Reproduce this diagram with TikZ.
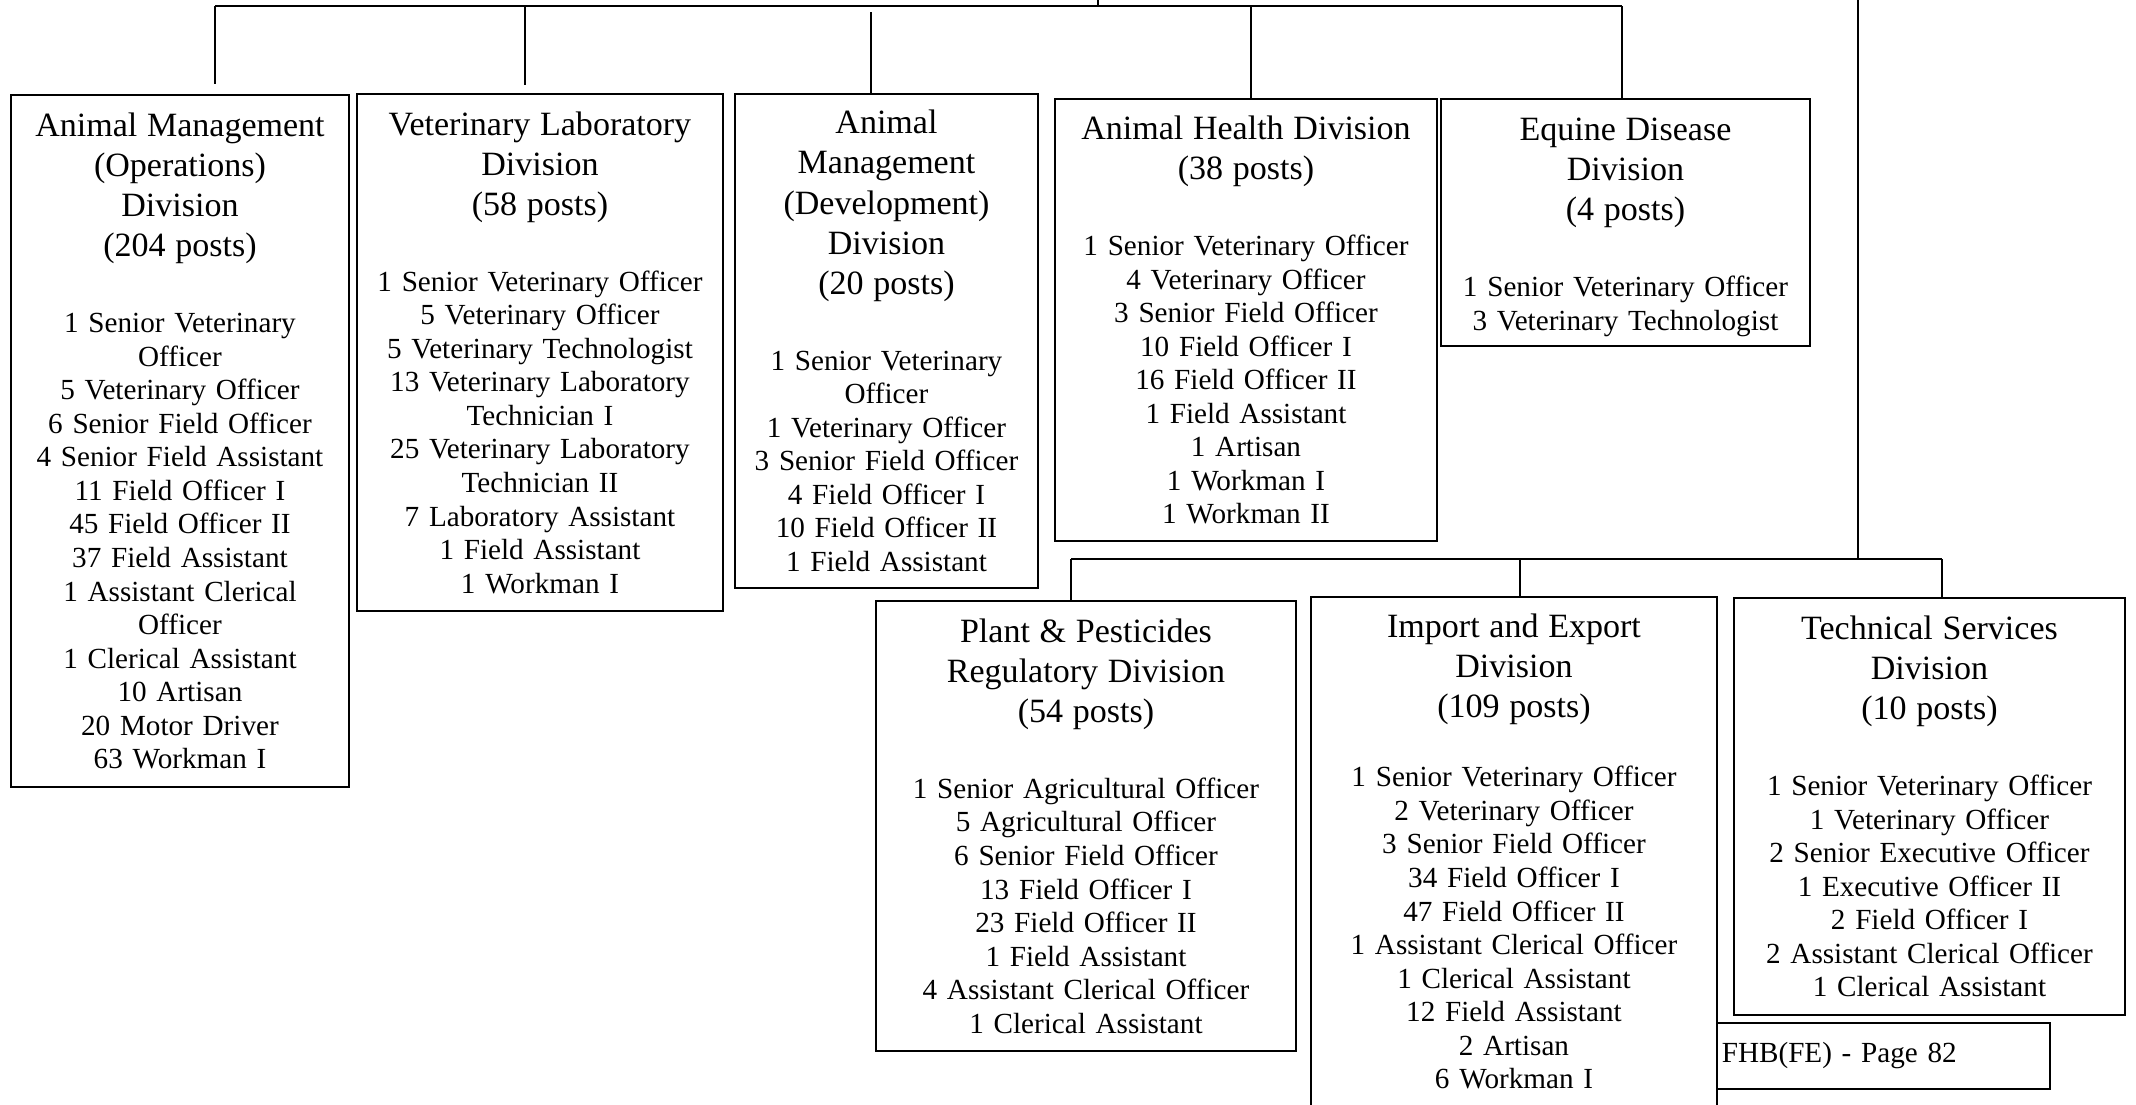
\documentclass[tikz,border=0pt]{standalone}
\usepackage{fontspec}
\setmainfont{Liberation Serif}
\usepackage{tikz}
\newcommand{\divhead}[2][17.5pt]{{\fontsize{14}{16.5}\selectfont #2\par}\vspace{#1}}

\begin{document}
\begin{tikzpicture}[
    x=0.4115pt, y=-0.4115pt,
    divbox/.style 2 args={draw, line width=0.8pt, anchor=north west, align=center,
      inner xsep=2pt, inner ysep=0pt,
      minimum width=#1*0.4115pt, text width=#1*0.4115pt-4pt,
      minimum height=#2*0.4115pt, font=\fontsize{12}{13.8}\selectfont},
    link/.style={line width=0.75pt}
  ]
    \useasboundingbox (0,0) rectangle (2136,1104);
    \node[divbox={338}{692}] (amo) at (10,94) {\divhead{Animal Management\\(Operations)\\Division\\(204 posts)}
      1 Senior Veterinary\\Officer\\5 Veterinary Officer\\6 Senior Field Officer\\4 Senior Field Assistant\\
      11 Field Officer I\\45 Field Officer II\\37 Field Assistant\\1 Assistant Clerical\\Officer\\
      1 Clerical Assistant\\10 Artisan\\20 Motor Driver\\63 Workman I};
    \node[divbox={366}{517}] (vld) at (356,93) {\divhead{Veterinary Laboratory\\Division\\(58 posts)}
      1 Senior Veterinary Officer\\5 Veterinary Officer\\5 Veterinary Technologist\\
      13 Veterinary Laboratory\\Technician I\\25 Veterinary Laboratory\\Technician II\\
      7 Laboratory Assistant\\1 Field Assistant\\1 Workman I};
    \node[divbox={303}{494}] (amd) at (734,93) {\divhead{Animal\\Management\\(Development)\\Division\\(20 posts)}
      1 Senior Veterinary\\Officer\\1 Veterinary Officer\\3 Senior Field Officer\\
      4 Field Officer I\\10 Field Officer II\\1 Field Assistant};
    \node[divbox={382}{442}] (ahd) at (1054,98) {\divhead{Animal Health Division\\(38 posts)}
      1 Senior Veterinary Officer\\4 Veterinary Officer\\3 Senior Field Officer\\
      10 Field Officer I\\16 Field Officer II\\1 Field Assistant\\1 Artisan\\1 Workman I\\1 Workman II};
    \node[divbox={369}{247}] (edd) at (1440,98) {\divhead{\rule{0pt}{13.3pt}Equine Disease\\Division\\(4 posts)}
      1 Senior Veterinary Officer\\3 Veterinary Technologist};
    \node[divbox={420}{450}] (ppr) at (875,600) {\divhead{Plant \& Pesticides\\Regulatory Division\\(54 posts)}
      1 Senior Agricultural Officer\\5 Agricultural Officer\\6 Senior Field Officer\\
      13 Field Officer I\\23 Field Officer II\\1 Field Assistant\\4 Assistant Clerical Officer\\
      1 Clerical Assistant};
    \node[divbox={406}{509}] (ied) at (1310,596) {\divhead[14.7pt]{Import and Export\\Division\\(109 posts)}
      1 Senior Veterinary Officer\\2 Veterinary Officer\\3 Senior Field Officer\\
      34 Field Officer I\\47 Field Officer II\\1 Assistant Clerical Officer\\1 Clerical Assistant\\
      12 Field Assistant\\2 Artisan\\6 Workman I};
    \node[divbox={391}{417}] (tsd) at (1733,597) {\divhead{Technical Services\\Division\\(10 posts)}
      1 Senior Veterinary Officer\\1 Veterinary Officer\\2 Senior Executive Officer\\
      1 Executive Officer II\\2 Field Officer I\\2 Assistant Clerical Officer\\1 Clerical Assistant};
    \node[divbox={332}{64}, draw=none, align=left] (foot) at (1716,1023) {FHB(FE) - Page 82};
    \draw[line width=0.8pt] (foot.north west) -- (foot.north east) -- (foot.south east) -- (foot.south west);

    \coordinate (root) at (1098,0);
    \coordinate (b1) at (215,6);
    \coordinate (b2) at (525,6);
    \coordinate (b3) at (871,6);
    \coordinate (b4) at (1251,6);
    \coordinate (b5) at (1622,6);
    \draw[link] (b1) -- (b5);
    \draw[link] (root) -- (root |- b1);
    \draw[link, shorten >=4.1pt] (b1) -- (b1 |- amo.north);
    \draw[link, shorten >=3.3pt] (b2) -- (b2 |- vld.north);
    \draw[link, shorten <=2.5pt] (b3) -- (b3 |- amd.north);
    \draw[link] (b4) -- (b4 |- ahd.north);
    \draw[link] (b5) -- (b5 |- edd.north);

    \coordinate (rroot) at (1858,0);
    \coordinate (c0) at (1858,559);
    \coordinate (c1) at (1071,559);
    \coordinate (c2) at (1520,559);
    \coordinate (c3) at (1942,559);
    \draw[link] (rroot) -- (c0);
    \draw[link] (c1) -- (c3);
    \draw[link] (c1) -- (c1 |- ppr.north);
    \draw[link] (c2) -- (c2 |- ied.north);
    \draw[link] (c3) -- (c3 |- tsd.north);
  \end{tikzpicture}
\end{document}
